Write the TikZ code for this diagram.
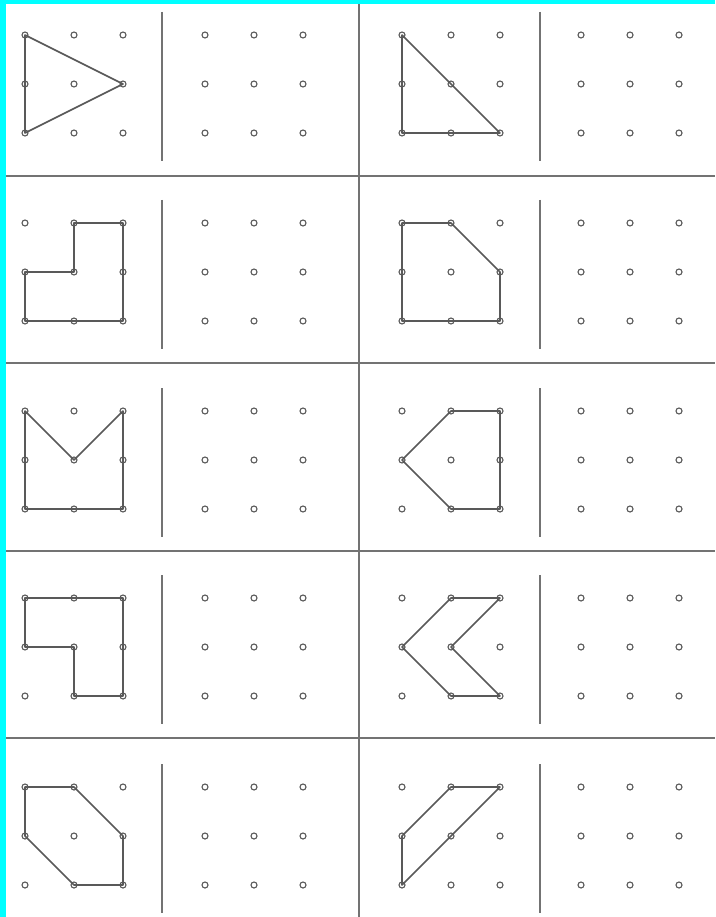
\documentclass[tikz,border=0pt]{standalone}
\definecolor{bordercyan}{RGB}{0,255,255}
\begin{document}
\begin{tikzpicture}[x=1pt,y=-1pt,
  gdot/.style={circle,draw=black!65,line width=1.1pt,inner sep=0pt,minimum size=6pt,fill=white},
  rulel/.style={draw=black!55,line width=1.6pt},
  poly/.style={draw=black!65,line width=1.6pt,line join=round}]
\fill[white] (0,0) rectangle (715,917);
\fill[bordercyan] (0,0) rectangle (715,4.5);
\fill[bordercyan] (0,0) rectangle (6,917);
\useasboundingbox (0,0) rectangle (715,917);
% dividers
\foreach \y in {176,363,551,738} \draw[rulel] (6,\y) -- (715,\y);
\draw[rulel] (359,4.5) -- (359,917);
\foreach \yt in {35,223,411,598,787} {
  \draw[rulel] (162,\yt-23) -- (162,\yt+126);
  \draw[rulel] (540,\yt-23) -- (540,\yt+126);
}
% dots
\foreach \r/\yt in {1/35,2/223,3/411,4/598,5/787} {
  \foreach \g/\xl in {A/25,B/205,C/402,D/581} {
    \foreach \i in {0,1,2} {
      \foreach \j in {0,1,2} {
        \node[gdot] (d\r\g\i\j) at (\xl+49*\i,\yt+49*\j) {};
      }
    }
  }
}
% shapes
\draw[poly] (d1A00.center) -- (d1A21.center) -- (d1A02.center) -- cycle;
\draw[poly] (d1C00.center) -- (d1C22.center) -- (d1C02.center) -- cycle;
\draw[poly] (d2A10.center) -- (d2A20.center) -- (d2A22.center) -- (d2A02.center) -- (d2A01.center) -- (d2A11.center) -- cycle;
\draw[poly] (d2C00.center) -- (d2C10.center) -- (d2C21.center) -- (d2C22.center) -- (d2C02.center) -- cycle;
\draw[poly] (d3A00.center) -- (d3A11.center) -- (d3A20.center) -- (d3A22.center) -- (d3A02.center) -- cycle;
\draw[poly] (d3C10.center) -- (d3C20.center) -- (d3C22.center) -- (d3C12.center) -- (d3C01.center) -- cycle;
\draw[poly] (d4A00.center) -- (d4A20.center) -- (d4A22.center) -- (d4A12.center) -- (d4A11.center) -- (d4A01.center) -- cycle;
\draw[poly] (d4C10.center) -- (d4C20.center) -- (d4C11.center) -- (d4C22.center) -- (d4C12.center) -- (d4C01.center) -- cycle;
\draw[poly] (d5A00.center) -- (d5A10.center) -- (d5A21.center) -- (d5A22.center) -- (d5A12.center) -- (d5A01.center) -- cycle;
\draw[poly] (d5C10.center) -- (d5C20.center) -- (d5C02.center) -- (d5C01.center) -- cycle;
\end{tikzpicture}
\end{document}
